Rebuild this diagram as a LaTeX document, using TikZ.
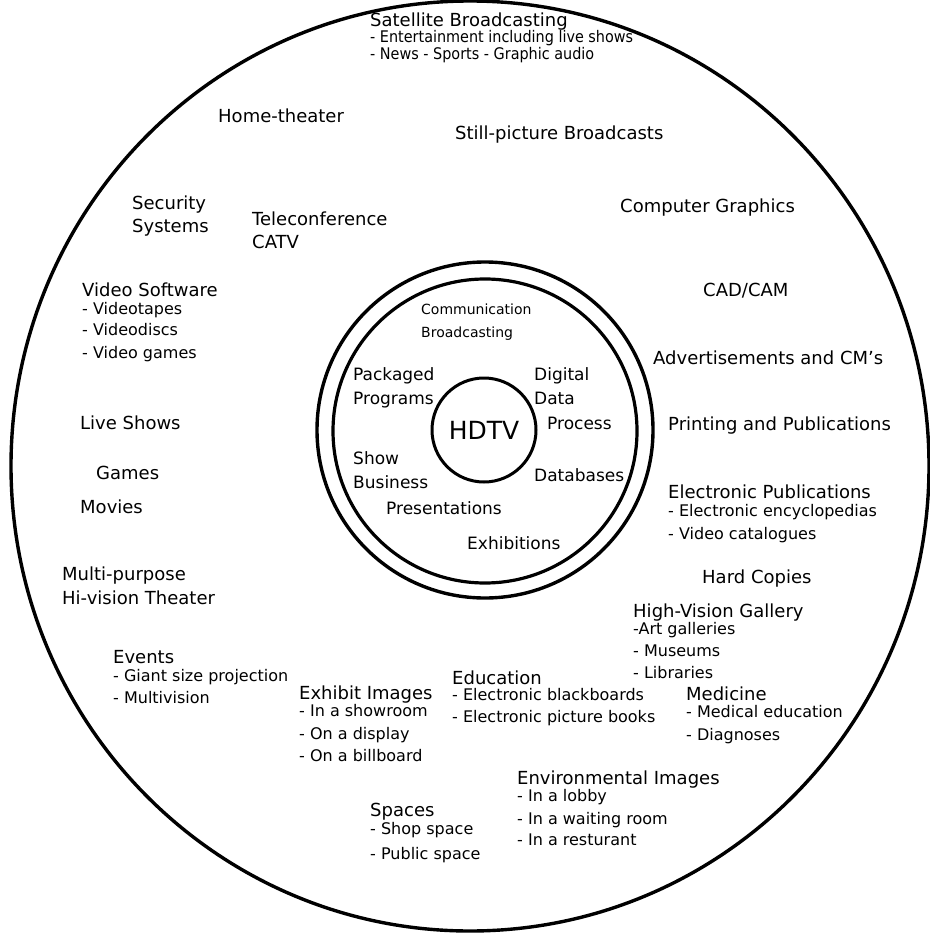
\documentclass[tikz,border=0pt]{standalone}
\usepackage{fontspec}
\setmainfont{DejaVu Sans}
\newfontfamily\narrowsans{DejaVu Sans Condensed}
\usetikzlibrary{shapes.geometric}
\begin{document}
\begin{tikzpicture}[x=1pt,y=-1pt,
  lbl/.style={inner sep=0pt, anchor=mid west, yshift=-4.5pt},
  head/.style={lbl, font=\fontsize{18}{20}\selectfont},
  item/.style={lbl, font=\fontsize{16}{18}\selectfont},
  narrowitem/.style={lbl, font=\narrowsans\fontsize{16}{18}\selectfont},
  core/.style={lbl, font=\fontsize{17}{20}\selectfont},
  corehead/.style={lbl, font=\fontsize{14}{16}\selectfont},
  ringline/.style={draw=black, circle, inner sep=0pt}]
\useasboundingbox (0,0) rectangle (929,933);

% outer boundary and the central rings
\node[draw=black, ellipse, line width=3.4pt, minimum width=918pt, minimum height=930pt, inner sep=0pt] (world) at (470,466) {};
\node[ringline, line width=3.4pt, minimum size=336pt] (ringout) at (485,430) {};
\node[ringline, line width=3.2pt, minimum size=304pt] (ringin) at (485,431) {};
\node[ringline, line width=3pt, minimum size=104pt, font=\fontsize{25}{28}\selectfont] (hdtv) at (484,430) {HDTV};

% inner ring labels
\node[corehead] (comm) at (421,307) {Communication};
\node[corehead] (bcast) at (421,330) {Broadcasting};
\node[core] (pack1) at (353,373) {Packaged};
\node[core] (pack2) at (353,397) {Programs};
\node[core] (dig1) at (534,373) {Digital};
\node[core] (dig2) at (534,397) {Data};
\node[core] (dig3) at (547,422) {Process};
\node[core] (show1) at (353,457) {Show};
\node[core] (show2) at (353,481) {Business};
\node[core] (dbase) at (534,474) {Databases};
\node[core] (pres) at (386,507) {Presentations};
\node[core] (exh) at (467,542) {Exhibitions};

% upper area
\node[head] (sat) at (370,19) {Satellite Broadcasting};
\node[narrowitem] (sat1) at (370,35) {- Entertainment including live shows};
\node[narrowitem] (sat2) at (370,52) {- News - Sports - Graphic audio};
\node[head] (home) at (218,115) {Home-theater};
\node[head] (still) at (455,132) {Still-picture Broadcasts};
\node[head] (sec1) at (132,202) {Security};
\node[head] (sec2) at (132,225) {Systems};
\node[head] (tele1) at (252,218) {Teleconference};
\node[head] (tele2) at (252,241) {CATV};
\node[head] (cg) at (620,205) {Computer Graphics};

% left side
\node[head] (vsw) at (82,289) {Video Software};
\node[item] (vsw1) at (82,307) {- Videotapes};
\node[item] (vsw2) at (82,328) {- Videodiscs};
\node[item] (vsw3) at (82,351) {- Video games};
\node[head] (live) at (80,422) {Live Shows};
\node[head] (games) at (96,472) {Games};
\node[head] (movies) at (80,506) {Movies};
\node[head] (multi1) at (62,573) {Multi-purpose};
\node[head] (multi2) at (62,597) {Hi-vision Theater};

% right side
\node[head] (cad) at (703,289) {CAD/CAM};
\node[head] (adv) at (653,357) {Advertisements and CM's};
\node[head] (print) at (668,423) {Printing and Publications};
\node[head] (epub) at (668,491) {Electronic Publications};
\node[item] (epub1) at (668,509) {- Electronic encyclopedias};
\node[item] (epub2) at (668,532) {- Video catalogues};
\node[head] (hard) at (702,576) {Hard Copies};
\node[head] (gal) at (633,610) {High-Vision Gallery};
\node[item] (gal1) at (633,627) {-Art galleries};
\node[item] (gal2) at (633,649) {- Museums};
\node[item] (gal3) at (633,671) {- Libraries};
\node[head] (med) at (686,693) {Medicine};
\node[item] (med1) at (686,710) {- Medical education};
\node[item] (med2) at (686,733) {- Diagnoses};

% lower area
\node[head] (evt) at (113,656) {Events};
\node[item] (evt1) at (113,674) {- Giant size projection};
\node[item] (evt2) at (113,696) {- Multivision};
\node[head] (exi) at (299,692) {Exhibit Images};
\node[item] (exi1) at (299,709) {- In a showroom};
\node[item] (exi2) at (299,732) {- On a display};
\node[item] (exi3) at (299,754) {- On a billboard};
\node[head] (edu) at (452,677) {Education};
\node[item] (edu1) at (452,693) {- Electronic blackboards};
\node[item] (edu2) at (452,715) {- Electronic picture books};
\node[head] (env) at (517,777) {Environmental Images};
\node[item] (env1) at (517,794) {- In a lobby};
\node[item] (env2) at (517,817) {- In a waiting room};
\node[item] (env3) at (517,838) {- In a resturant};
\node[head] (spc) at (370,809) {Spaces};
\node[item] (spc1) at (370,827) {- Shop space};
\node[item] (spc2) at (370,852) {- Public space};
\end{tikzpicture}
\end{document}
